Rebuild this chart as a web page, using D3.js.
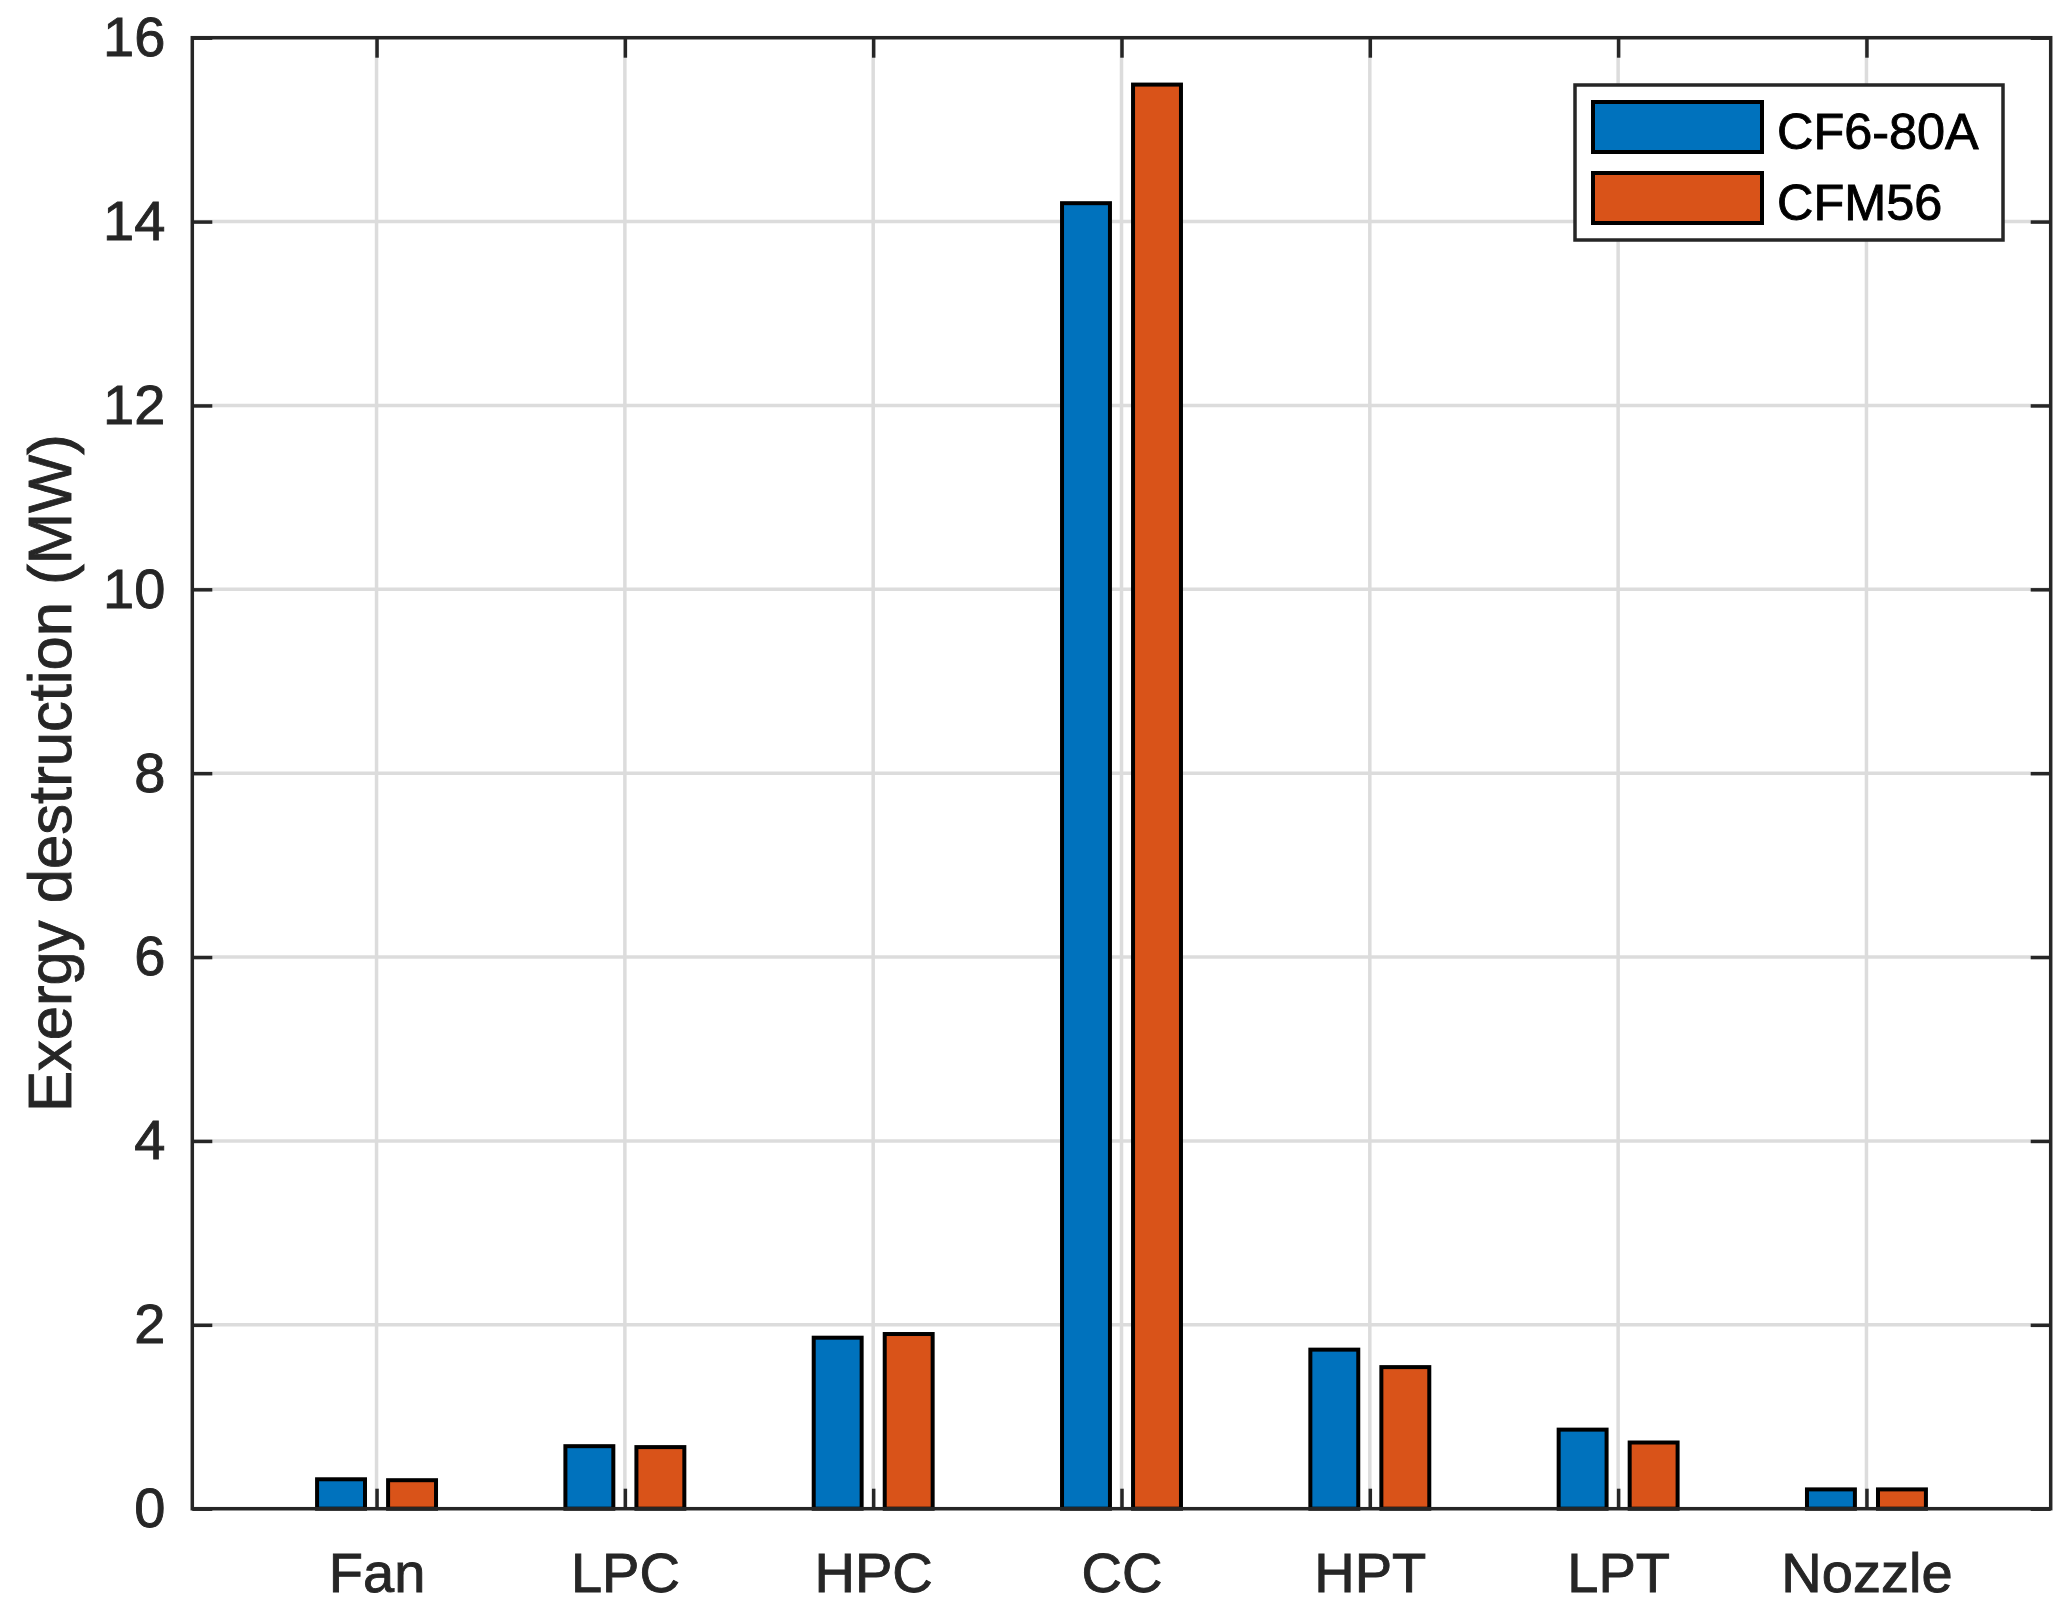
<!DOCTYPE html>
<html>
<head>
<meta charset="utf-8">
<script src="https://cdn.jsdelivr.net/npm/d3@7"></script>
<style>
  html, body { margin: 0; padding: 0; background: #fff; }
  svg { display: block; }
</style>
</head>
<body>
<div id="chart"></div>
<script>
// ---- data ----
const categories = ["Fan", "LPC", "HPC", "CC", "HPT", "LPT", "Nozzle"];
const seriesNames = ["CF6-80A", "CFM56"];
const cf680a = [0.32, 0.68, 1.86, 14.20, 1.73, 0.86, 0.21];
const cfm56  = [0.31, 0.67, 1.90, 15.49, 1.54, 0.72, 0.21];
const yTicks = [0, 2, 4, 6, 8, 10, 12, 14, 16];
const yLabel = "Exergy destruction (MW)";
const seriesColors = ["#0072BD", "#D95319"];

// ---- layout ----
const W = 2070, H = 1614;
const L = 192.3, R = 2050.7, T = 37.7, B = 1508.7;
const axisColor = "#262626";
const gridColor = "#dcdcdc";
const font = "'Liberation Sans', Arial, Helvetica, sans-serif";
const tickFont = 56;
const textStroke = 0.9;

const svg = d3.select("#chart").append("svg")
  .attr("width", W).attr("height", H)
  .style("font-family", font);

const x = d3.scalePoint().domain(categories).range([L, R]).padding(0.742);
const y = d3.scaleLinear().domain([0, 16]).range([B, T]);
const step = x.step();
const barW = 0.193 * step;
const offs = [-0.143 * step, 0.143 * step];

// grid
const grid = svg.append("g");
grid.selectAll("line.gx").data(categories).join("line")
  .attr("x1", d => x(d)).attr("x2", d => x(d))
  .attr("y1", T).attr("y2", B)
  .attr("stroke", gridColor).attr("stroke-width", 3.5);
grid.selectAll("line.gy").data(yTicks).join("line")
  .attr("x1", L).attr("x2", R)
  .attr("y1", d => y(d)).attr("y2", d => y(d))
  .attr("stroke", gridColor).attr("stroke-width", 3.5);

// bars
const series = [cf680a, cfm56];
series.forEach((vals, si) => {
  svg.append("g").selectAll("rect").data(vals).join("rect")
    .attr("x", (d, i) => x(categories[i]) + offs[si] - barW / 2)
    .attr("width", barW)
    .attr("y", d => y(d))
    .attr("height", d => y(0) - y(d))
    .attr("fill", seriesColors[si])
    .attr("stroke", "#000")
    .attr("stroke-width", 4);
});

// axes
function styleAxis(g) {
  g.select(".domain").remove();
  g.selectAll(".tick line").attr("stroke", axisColor).attr("stroke-width", 3.5);
  g.selectAll(".tick text").attr("fill", axisColor)
    .attr("stroke", axisColor).attr("stroke-width", textStroke)
    .style("font-size", tickFont + "px").style("font-family", font);
}
svg.append("g").attr("transform", `translate(0,${B})`)
  .call(d3.axisBottom(x).tickSizeInner(-20).tickSizeOuter(0).tickPadding(43.5))
  .call(styleAxis);
svg.append("g").attr("transform", `translate(0,${T})`)
  .call(d3.axisTop(x).tickSizeInner(-20).tickSizeOuter(0).tickFormat(""))
  .call(styleAxis);
svg.append("g").attr("transform", `translate(${L},0)`)
  .call(d3.axisLeft(y).tickValues(yTicks).tickSizeInner(-20).tickSizeOuter(0).tickPadding(27))
  .call(styleAxis);
svg.append("g").attr("transform", `translate(${R},0)`)
  .call(d3.axisRight(y).tickValues(yTicks).tickSizeInner(-20).tickSizeOuter(0).tickFormat(""))
  .call(styleAxis);

// frame
svg.append("rect")
  .attr("x", L).attr("y", T).attr("width", R - L).attr("height", B - T)
  .attr("fill", "none").attr("stroke", axisColor).attr("stroke-width", 3.5);

// y label
svg.append("text")
  .attr("transform", `translate(71,${(T + B) / 2}) rotate(-90)`)
  .attr("text-anchor", "middle")
  .attr("fill", axisColor)
  .attr("stroke", axisColor).attr("stroke-width", textStroke)
  .style("font-size", "61.6px")
  .text(yLabel);

// legend
const lg = svg.append("g");
lg.append("rect")
  .attr("x", 1575).attr("y", 85).attr("width", 428).attr("height", 155)
  .attr("fill", "#fff").attr("stroke", axisColor).attr("stroke-width", 3.5);
const swY = [100, 171];
seriesNames.forEach((name, i) => {
  lg.append("rect")
    .attr("x", 1593).attr("y", swY[i] + 2).attr("width", 169).attr("height", 50)
    .attr("fill", seriesColors[i]).attr("stroke", "#000").attr("stroke-width", 4);
  lg.append("text")
    .attr("x", 1777).attr("y", swY[i] + 49)
    .attr("fill", "#000")
    .attr("stroke", "#000").attr("stroke-width", textStroke)
    .style("font-size", "50.4px")
    .text(name);
});
</script>
</body>
</html>
